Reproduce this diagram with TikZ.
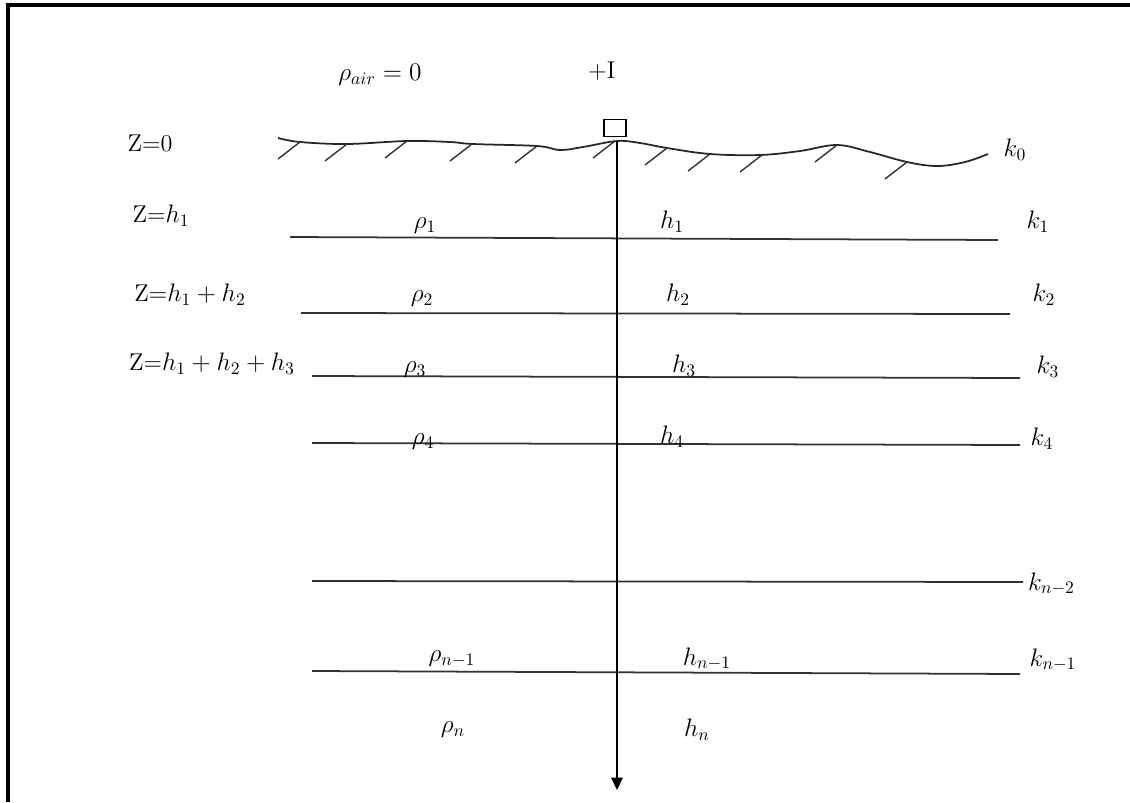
\documentclass[tikz,border=0pt]{standalone}
\usepackage{amsmath}
\usepackage{tikz}
\usetikzlibrary{arrows.meta}

\begin{document}
\begin{tikzpicture}[
    x=0.02cm, y=-0.02cm,
    every node/.style={font=\fontsize{13.8}{16}\selectfont, inner sep=1pt},
    frame/.style={line width=2pt, draw=black},
    layer/.style={line width=1pt, draw=black!80},
    ground/.style={line width=1pt, draw=black!85},
    hatch/.style={line width=0.8pt, draw=black!80},
    electrode/.style={draw, line width=0.8pt, minimum width=0.44cm,
                      minimum height=0.34cm, inner sep=0pt},
    arr/.style={-{Triangle[length=7pt, width=6.5pt]}, line width=0.9pt},
]
\useasboundingbox (0,0) rectangle (1130,802);

%% Frame (cut off at right and bottom)
\draw[frame] (8,802) -- (8,5) -- (1130,5);

%% Air and source
\node (rhoair) at (380,75)  {$\rho_{air} = 0$};
\node (plusI)  at (602,71)  {+I};
\node[electrode] (elec) at (615,128) {};

%% Ground surface
\draw[ground] plot[smooth, tension=0.6] coordinates {
    (278,138) (300,142) (347,144) (407,141) (450,142) (473,144)
    (537,146) (560,150) (583,147) (617,141) (640,143) (667,148)
    (710,154) (760,155) (800,151) (837,145) (870,152) (907,162)
    (937,166) (965,162) (988,154)};
\foreach \hx/\hy in {300/142, 347/144, 407/141, 472/144, 537/146, 615/141,
                     667/148, 710/154, 762/155, 837/145, 907/162}
    \draw[hatch] (\hx,\hy) -- ++(-22,17);

%% Depth labels
\node (z0) at (150,143) {Z=0};
\node (z1) at (161,216) {Z=$h_1$};
\node (z2) at (190,295) {Z=$h_1 + h_2$};
\node (z3) at (212,364) {Z=$h_1 + h_2 + h_3$};

%% Layer boundaries
\draw[layer] (290,237) -- (998,240);
\draw[layer] (301,313) -- (1010,314);
\draw[layer] (312,376) -- (1020,378);
\draw[layer] (312,443) -- (1020,445);
\draw[layer] (312,581) -- (1023,582);
\draw[layer] (312,671) -- (1020,674);

%% Layer labels
\node (rho1) at (425,226) {$\rho_1$};
\node (h1)   at (672,222) {$h_1$};
\node (rho2) at (422,299) {$\rho_2$};
\node (h2)   at (678,295) {$h_2$};
\node (rho3) at (415,370) {$\rho_3$};
\node (h3)   at (684,366) {$h_3$};
\node (rho4) at (423,442) {$\rho_4$};
\node (h4)   at (672,437) {$h_4$};
\node (rhom) at (452,659) {$\rho_{n-1}$};
\node (hm)   at (707,659) {$h_{n-1}$};
\node (rhon) at (453,730) {$\rho_n$};
\node (hn)   at (697,730) {$h_n$};

%% Boundary labels
\node (k0) at (1015,150) {$k_0$};
\node (k1) at (1038,222) {$k_1$};
\node (k2) at (1044,295) {$k_2$};
\node (k3) at (1048,367) {$k_3$};
\node (k4) at (1042,439) {$k_4$};
\node[anchor=west] (kn2) at (1026,584) {$k_{n-2}$};
\node (kn1) at (1053,660) {$k_{n-1}$};

%% Current axis
\coordinate (top) at (617,141);
\coordinate (bot) at (617,790);
\draw[arr] (top) -- (bot);

\end{tikzpicture}
\end{document}
